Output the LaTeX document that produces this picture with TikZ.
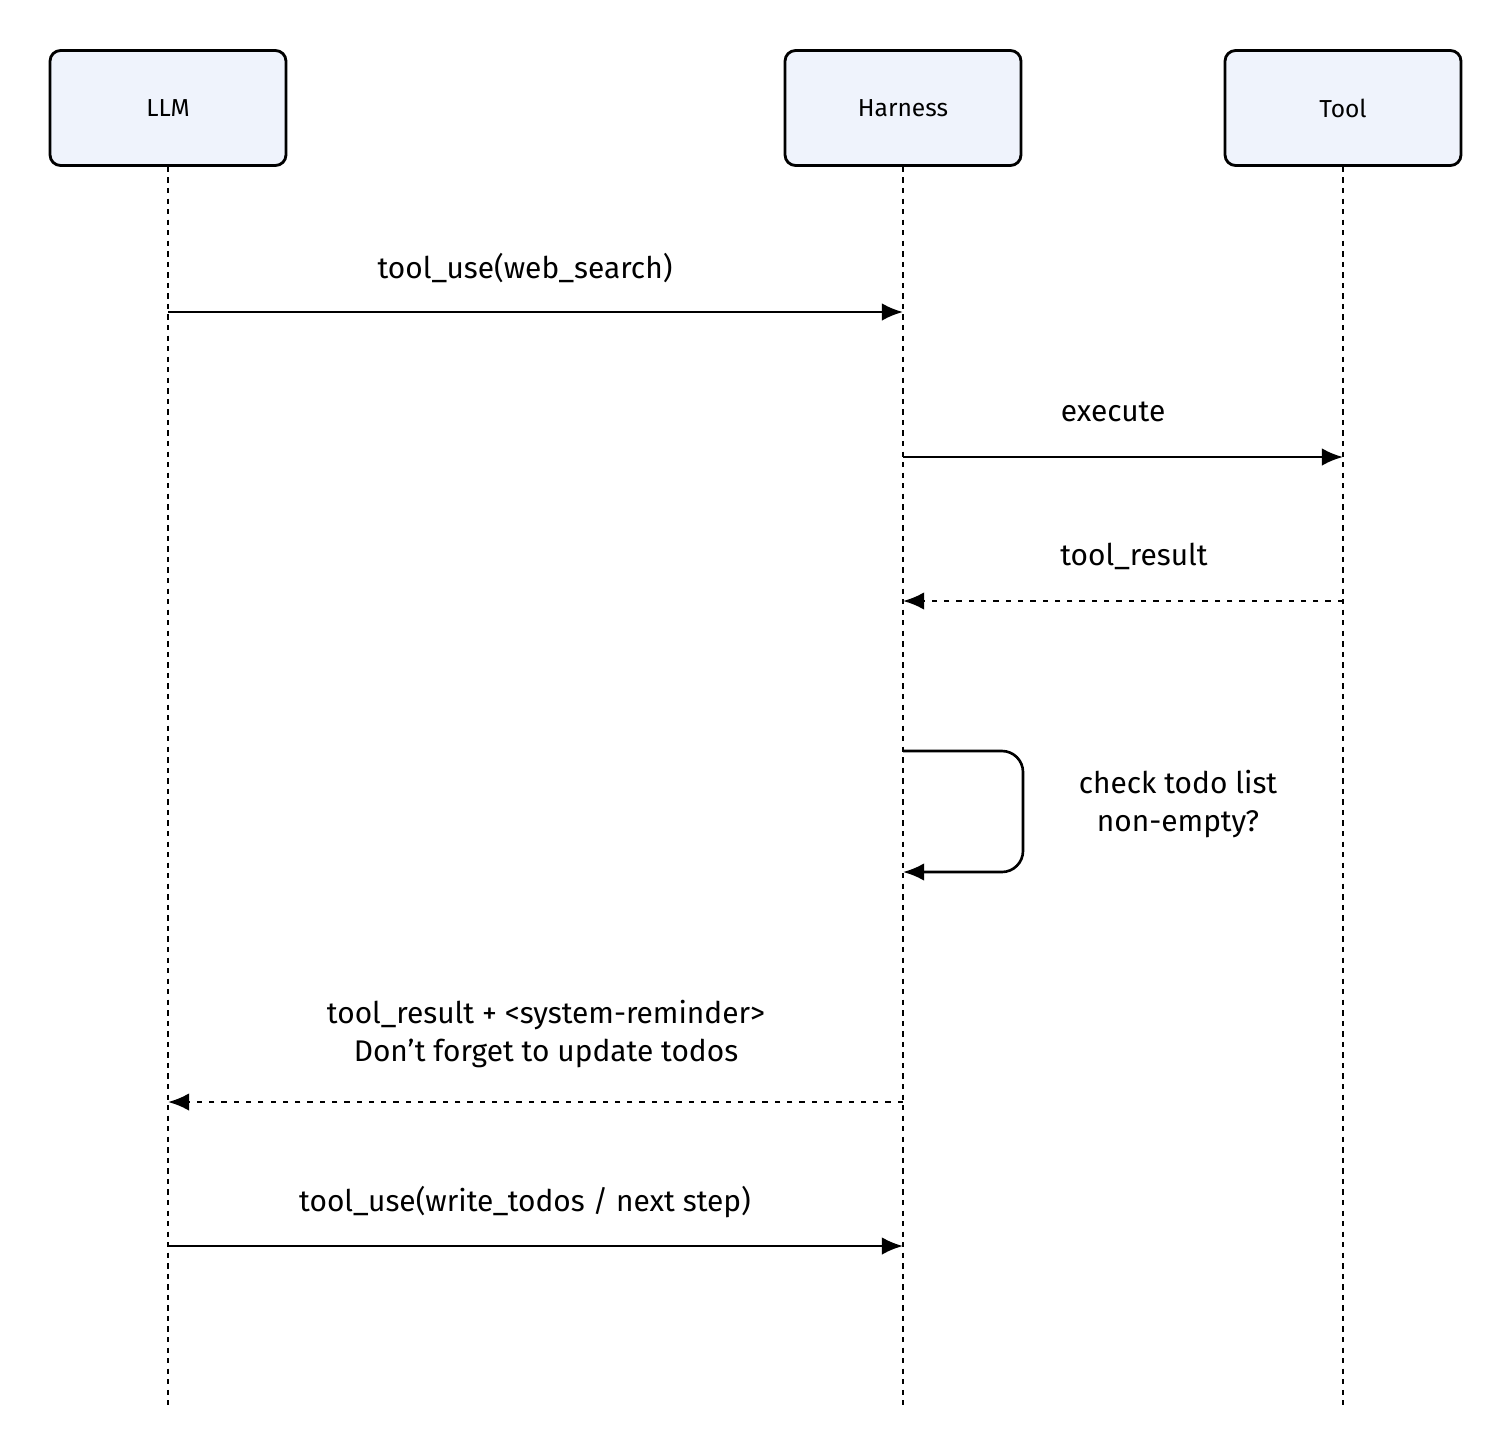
\documentclass[tikz,border=0pt]{standalone}
\usepackage{fontspec}
\setmainfont{Fira Sans}
\usetikzlibrary{arrows.meta}
\definecolor{boxfill}{HTML}{EFF3FC}
\tikzset{
  actor/.style={draw, line width=1.6pt, rounded corners=6pt, fill=boxfill,
    minimum width=4.72cm, minimum height=2.3cm, font=\fontsize{14}{16}\selectfont},
  life/.style={line width=1.4pt, dash pattern=on 3pt off 3pt},
  msg/.style={line width=1.5pt, -{Latex[length=12pt,width=10pt]}},
  reply/.style={msg, dash pattern=on 3pt off 4pt},
  lbl/.style={font=\fontsize{17}{22}\selectfont, align=center}
}
\begin{document}
\begin{tikzpicture}[x=0.02cm, y=-0.02cm]
  \useasboundingbox (0,0) rectangle (1511,1454);
  % Actors
  \node[actor] (llm) at (168,108) {LLM};
  \node[actor] (harness) at (903,108) {Harness};
  \node[actor] (tool) at (1343,108) {Tool};

  % Lifelines
  \coordinate (llmEnd) at (168,1405);
  \coordinate (harnessEnd) at (903,1405);
  \coordinate (toolEnd) at (1343,1405);
  \draw[life] (llm.south) -- (llmEnd);
  \draw[life] (harness.south) -- (harnessEnd);
  \draw[life] (tool.south) -- (toolEnd);

  % Messages
  \coordinate (l1) at (168,312); \coordinate (h1) at (903,312);
  \draw[msg] (l1) -- (h1);
  \node[lbl] (m1) at (525,268) {tool\_use(web\_search)};

  \coordinate (h2) at (903,457); \coordinate (t2) at (1343,457);
  \draw[msg] (h2) -- (t2);
  \node[lbl] (m2) at (1113,412) {execute};

  \coordinate (t3) at (1343,601); \coordinate (h3) at (903,601);
  \draw[reply] (t3) -- (h3);
  \node[lbl] (m3) at (1134,556) {tool\_result};

  % Self loop
  \coordinate (h4) at (903,751); \coordinate (h5) at (903,872);
  \draw[msg, rounded corners=12pt] (h4) -- (1023,751) -- (1023,872) -- (h5);
  \node[lbl] (m4) at (1178,804) {check todo list\\non-empty?};

  \coordinate (h6) at (903,1102); \coordinate (l6) at (168,1102);
  \draw[reply] (h6) -- (l6);
  \node[lbl] (m5) at (546,1034) {tool\_result + <system-reminder>\\Don't forget to update todos};

  \coordinate (l7) at (168,1246); \coordinate (h7) at (903,1246);
  \draw[msg] (l7) -- (h7);
  \node[lbl] (m6) at (525,1202) {tool\_use(write\_todos / next step)};
\end{tikzpicture}
\end{document}
